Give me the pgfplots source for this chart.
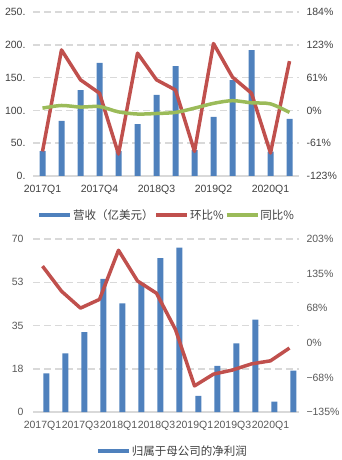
\documentclass[border=0pt]{standalone}
\usepackage{pgfplots}
\pgfplotsset{compat=1.18}
\usepackage{fontspec}
\setmainfont{Liberation Sans}
\newfontfamily\cjk{Noto Sans CJK SC}
\definecolor{barblue}{HTML}{4F81BD}
\definecolor{lred}{HTML}{C0504D}
\definecolor{lgreen}{HTML}{9BBB59}
\definecolor{gridgray}{HTML}{D9D9D9}
\definecolor{txtdark}{HTML}{404040}
\definecolor{txtlight}{HTML}{595959}
\pgfplotsset{
  mybase/.style={
    scale only axis, width=266bp, anchor=south west,
    xmin=-0.5, xmax=13.5,
    tick style={draw=none},
    ticklabel style={font=\fontsize{10.5bp}{12bp}\selectfont},
    clip=false,
    /pgf/number format/assume math mode=true,
  },
  mylegend/.style={
    legend style={draw=none, fill=none, legend columns=-1,
      font=\cjk\fontsize{11.5bp}{13bp}\selectfont, text=txtdark,
      nodes={inner sep=1bp}},
    legend image code/.code={\draw[##1] (0bp,0bp) -- (31bp,0bp);},
  }
}
\begin{document}
\begin{tikzpicture}
\path[use as bounding box] (0,0) rectangle (342bp,460bp);

% ---------- Top chart: bars ----------
\begin{axis}[mybase, at={(33bp,284bp)}, height=164bp,
  ymin=0, ymax=250, ytick={0,50,100,150,200,250},
  yticklabels={0.,50.,100.,150.,200.,250.},
  xtick={0,3,6,9,12}, xticklabels={2017Q1,2017Q4,2018Q3,2019Q2,2020Q1},
  axis x line*=bottom, axis y line*=left,
  y axis line style={draw=none},
  x axis line style={-, draw=gridgray, line width=1.3bp},
  ymajorgrids, grid style={gridgray, line width=1.5bp, dash pattern=on 7bp off 4bp},
  yticklabel style={anchor=east, xshift=-4bp, text=txtdark},
  xticklabel style={yshift=-1bp, text=txtdark},
  ybar, bar width=6bp,
]
\addplot[fill=barblue, draw=none] coordinates {
(0,38) (1,84) (2,131) (3,172.5) (4,38) (5,79) (6,123.5) (7,167.5)
(8,39.5) (9,90) (10,146) (11,192) (12,37) (13,87)};
\end{axis}

% ---------- Top chart: lines ----------
\begin{axis}[mybase, at={(33bp,284bp)}, height=164bp, mylegend,
  ymin=-123, ymax=184,
  ytick={-123,-61.6,-0.2,61.2,122.6,184},
  yticklabels={-123\%,-61\%,0\%,61\%,123\%,184\%},
  axis y line*=right, y axis line style={draw=none},
  hide x axis,
  yticklabel style={anchor=west, xshift=4bp, text=txtdark},
  legend style={at={(0.5,-0.238)}, anchor=center},
]
\addlegendimage{barblue, line width=4bp}
\addlegendentry{营收（亿美元）\hspace{6bp}}
\addplot[lred, line width=3.5bp, line join=round] coordinates {
(0,-77) (1,113) (2,57) (3,32) (4,-82) (5,107) (6,57) (7,38)
(8,-77) (9,125) (10,62) (11,32) (12,-80) (13,92)};
\addlegendentry{环比\%\hspace{4bp}}
\addplot[lgreen, line width=3.5bp, smooth, tension=0.5] coordinates {
(0,4) (1,9) (2,6) (3,7) (4,-3) (5,-7) (6,-6) (7,-4)
(8,4) (9,13) (10,18) (11,14) (12,12) (13,-4)};
\addlegendentry{同比\%}
\end{axis}

% ---------- Bottom chart: bars ----------
\begin{axis}[mybase, at={(33bp,48bp)}, height=173bp,
  ymin=0, ymax=70, ytick={0,17.5,35,52.5,70},
  yticklabels={0,18,35,53,70},
  xtick={0,2,4,6,8,10,12},
  xticklabels={2017Q1,2017Q3,2018Q1,2018Q3,2019Q1,2019Q3,2020Q1},
  axis x line*=bottom, axis y line*=left,
  y axis line style={draw=none},
  x axis line style={-, draw=gridgray, line width=1.3bp},
  ymajorgrids, grid style={gridgray, line width=1.5bp, dash pattern=on 7bp off 4bp},
  yticklabel style={anchor=east, xshift=-6bp, text=txtlight},
  xticklabel style={yshift=-1bp, text=txtlight},
  ybar, bar width=6bp,
  mylegend,
  legend style={at={(0.522,-0.225)}, anchor=center},
]
\addlegendimage{barblue, line width=4bp}
\addlegendentry{归属于母公司的净利润}
\addplot[fill=barblue, draw=none, forget plot] coordinates {
(0,15.6) (1,23.7) (2,32.3) (3,53.9) (4,44) (5,52.2) (6,62.3) (7,66.5)
(8,6.5) (9,18.7) (10,27.8) (11,37.4) (12,4.2) (13,16.7)};
\end{axis}

% ---------- Bottom chart: line ----------
\begin{axis}[mybase, at={(33bp,48bp)}, height=173bp,
  ymin=-135, ymax=203,
  ytick={-135,-67.4,0.2,67.8,135.4,203},
  yticklabels={−135\%,−68\%,0\%,68\%,135\%,203\%},
  axis y line*=right, y axis line style={draw=none},
  hide x axis,
  yticklabel style={anchor=west, xshift=4bp, text=txtlight},
]
\addplot[lred, line width=3.5bp, line join=round] coordinates {
(0,150) (1,101) (2,68) (3,85) (4,181) (5,121) (6,97) (7,26)
(8,-84) (9,-61) (10,-53) (11,-41) (12,-35) (13,-10)};
\end{axis}
\end{tikzpicture}
\end{document}
